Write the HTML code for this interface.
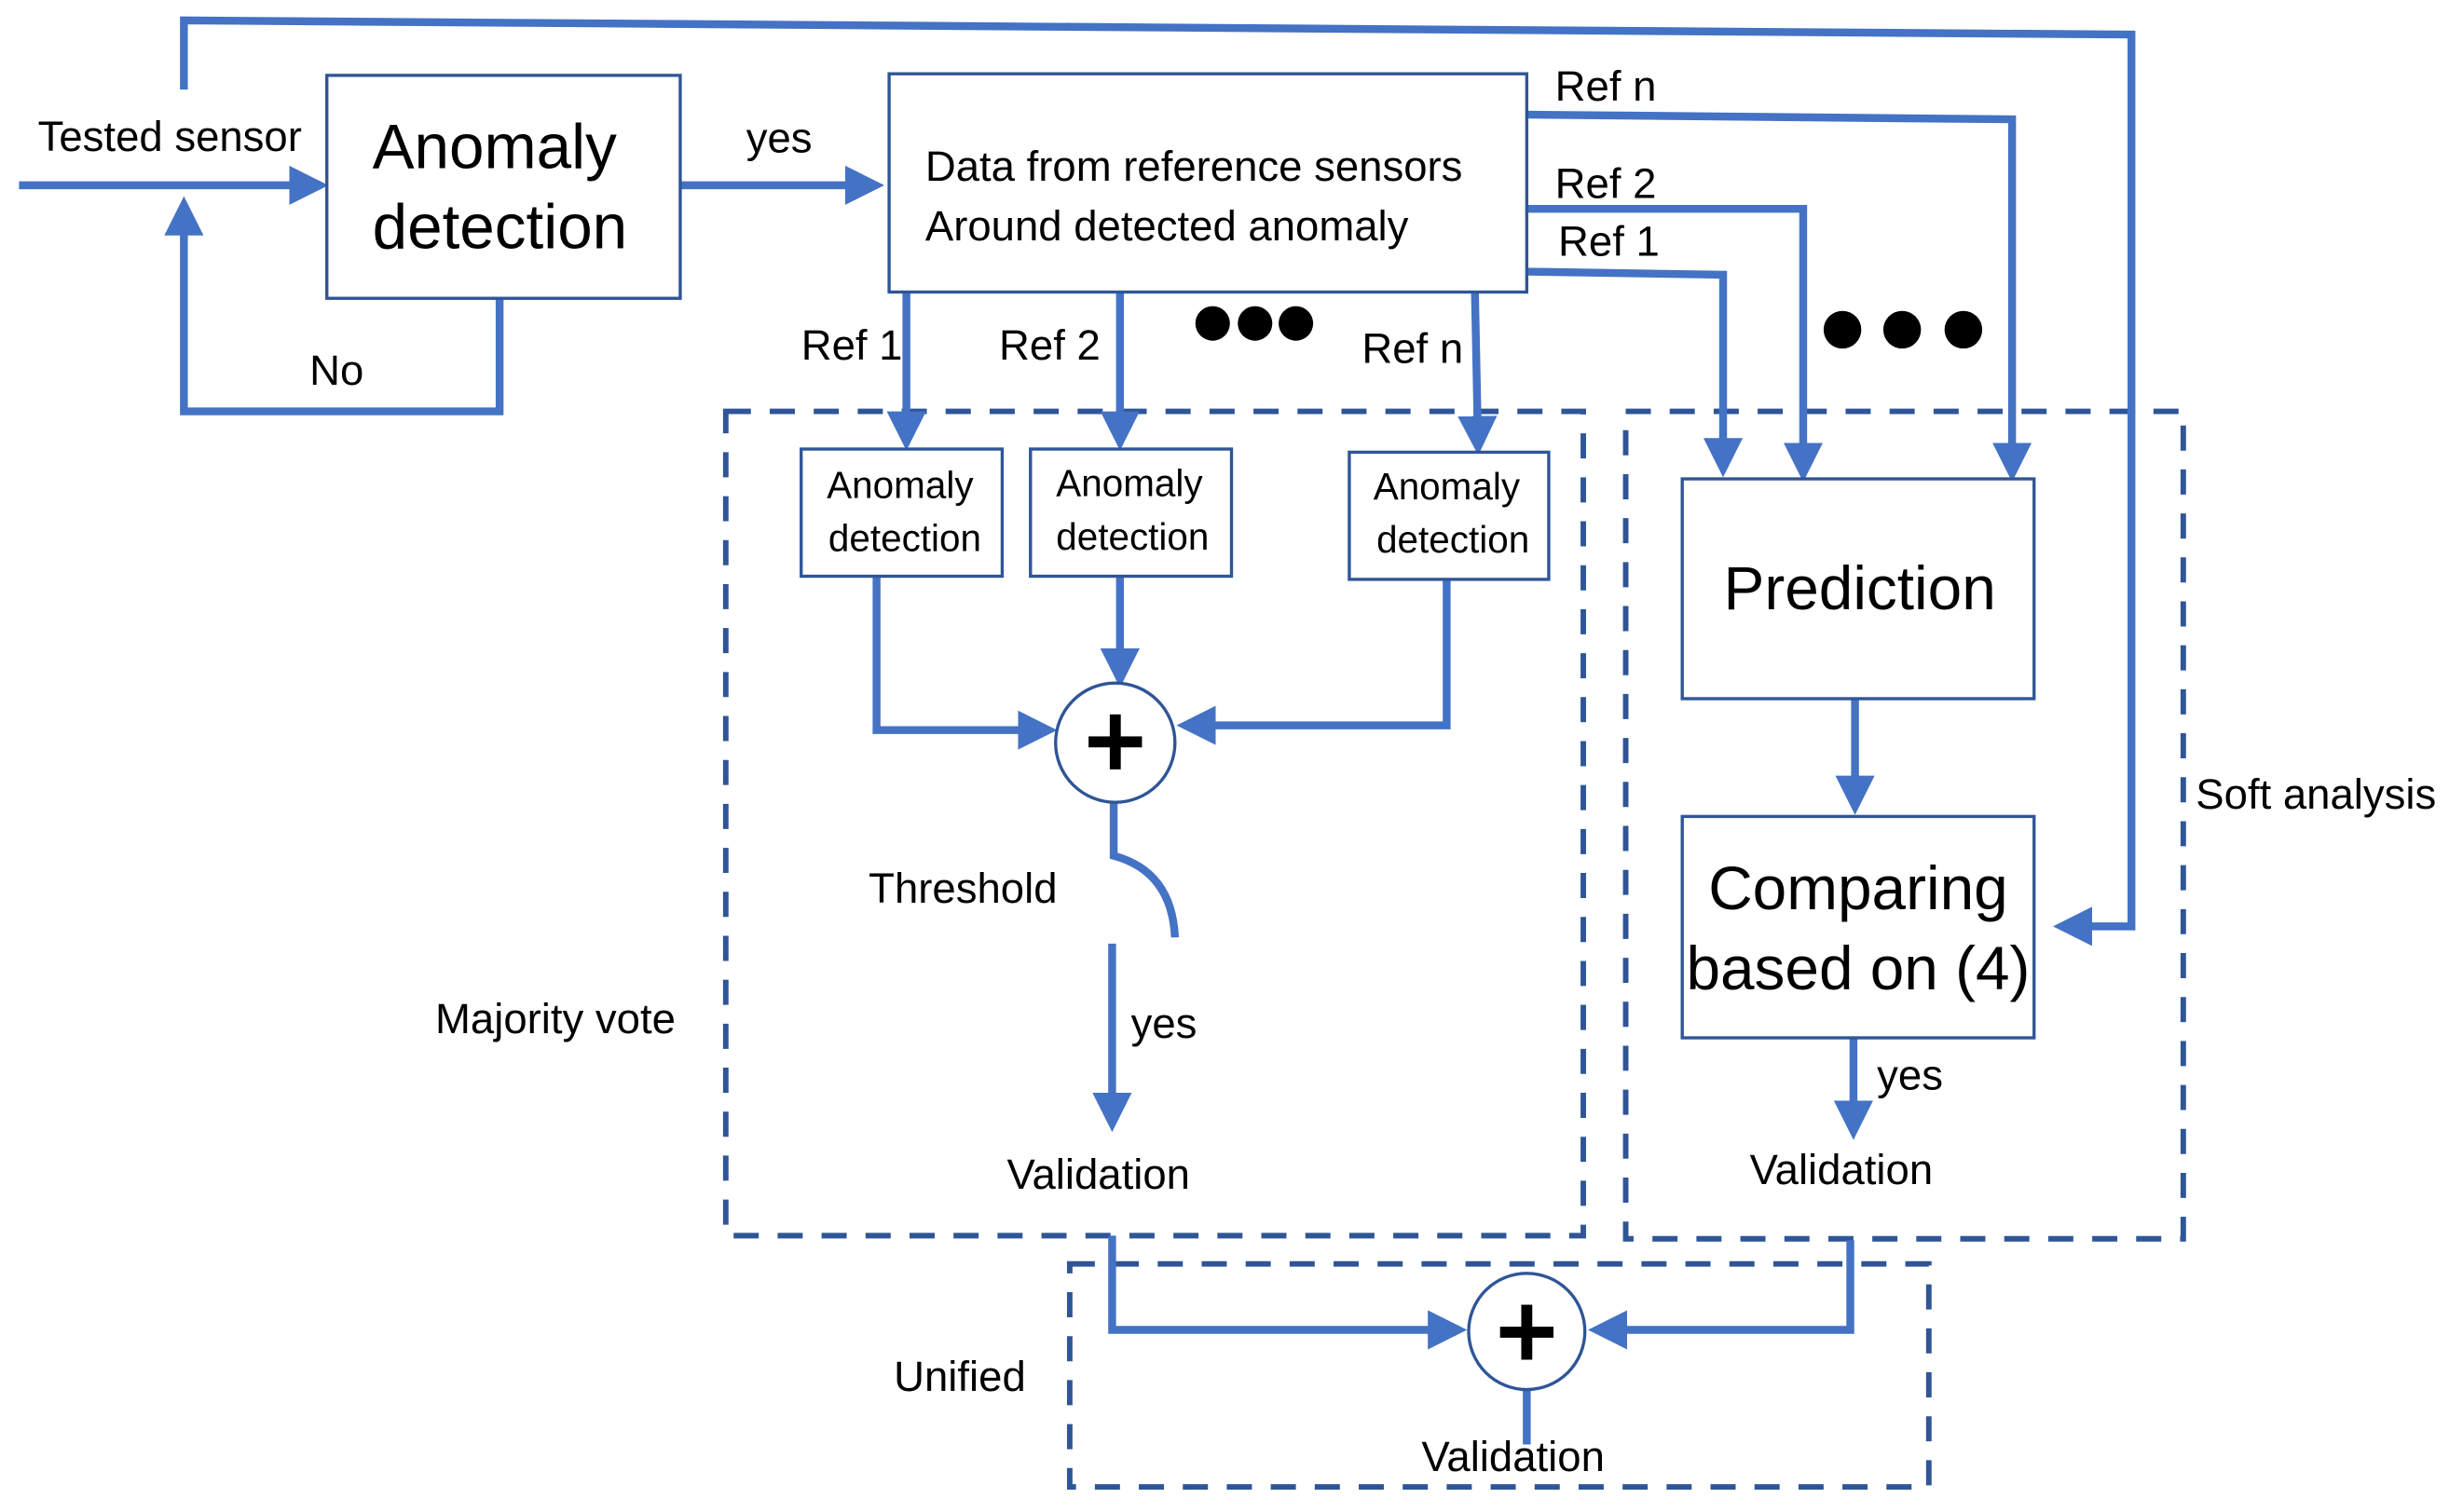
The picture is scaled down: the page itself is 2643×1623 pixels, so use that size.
<!DOCTYPE html>
<html><head><meta charset="utf-8"><style>html,body{margin:0;padding:0;background:#fff}svg{display:block}text{font-family:"Liberation Sans",sans-serif;fill:#000}</style></head><body>
<svg width="2643" height="1623" viewBox="0 0 1568 963" xmlns="http://www.w3.org/2000/svg">
<defs><marker id="a" markerWidth="5" markerHeight="5" refX="4" refY="2.5" orient="auto" markerUnits="strokeWidth"><path d="M0,0 L5,2.5 L0,5z" fill="#4472C4"/></marker></defs>
<g fill="none" stroke="#2F5597" stroke-width="3.5" stroke-dasharray="16,12">
<rect x="462" y="262" width="546" height="525"/>
<rect x="1035" y="262" width="355" height="527"/>
<rect x="681" y="805" width="547" height="142"/>
</g>
<g fill="none" stroke="#4472C4" stroke-width="5">
<polyline points="117,57 117,13 1357,22 1357,590 1312,590" marker-end="url(#a)"/>
<line x1="12" y1="118" x2="204" y2="118" marker-end="url(#a)"/>
<polyline points="318,190 318,262 117,262 117,130" marker-end="url(#a)"/>
<line x1="433" y1="118" x2="558" y2="118" marker-end="url(#a)"/>
<polyline points="972,73 1281,76 1281,302" marker-end="url(#a)"/>
<polyline points="972,133 1148,133 1148,302" marker-end="url(#a)"/>
<polyline points="972,173 1097,175 1097,299" marker-end="url(#a)"/>
<line x1="577" y1="186" x2="577" y2="282" marker-end="url(#a)"/>
<line x1="713" y1="186" x2="713" y2="282" marker-end="url(#a)"/>
<line x1="939" y1="186" x2="941" y2="285" marker-end="url(#a)"/>
<polyline points="558,367 558,465 668,465" marker-end="url(#a)"/>
<line x1="713" y1="367" x2="713" y2="433" marker-end="url(#a)"/>
<polyline points="921,369 921,462 754,462" marker-end="url(#a)"/>
<path d="M709,511 L709,545 Q746,555 748,597"/>
<line x1="708" y1="601" x2="708" y2="716" marker-end="url(#a)"/>
<line x1="1181" y1="445" x2="1181" y2="514" marker-end="url(#a)"/>
<line x1="1180" y1="661" x2="1180" y2="721" marker-end="url(#a)"/>
<polyline points="708,787 708,847 929,847" marker-end="url(#a)"/>
<polyline points="1178,790 1178,847 1016,847" marker-end="url(#a)"/>
<line x1="972" y1="885" x2="972" y2="920"/>
</g>
<g fill="#fff" stroke="#2F5597" stroke-width="2">
<rect x="208" y="48" width="225" height="142"/>
<rect x="566" y="47" width="406" height="139"/>
<rect x="510" y="286" width="128" height="81"/>
<rect x="656" y="286" width="128" height="81"/>
<rect x="859" y="288" width="127" height="81"/>
<rect x="1071" y="305" width="224" height="140"/>
<rect x="1071" y="520" width="224" height="141"/>
<circle cx="710" cy="473" r="38"/>
<circle cx="972" cy="848" r="37"/>
</g>
<g fill="#000">
<rect x="693" y="469" width="34" height="7"/><rect x="706.5" y="455" width="7" height="35"/>
<rect x="955" y="845" width="34" height="7"/><rect x="968.5" y="831" width="7" height="35"/>
<circle cx="772" cy="206" r="11"/><circle cx="799" cy="206" r="11"/><circle cx="825" cy="206" r="11"/>
<circle cx="1173" cy="210" r="12"/><circle cx="1211" cy="210" r="12"/><circle cx="1250" cy="210" r="12"/>
</g>
<g font-size="27">
<text x="24" y="96">Tested sensor</text>
<text x="475" y="97">yes</text>
<text x="197" y="245">No</text>
<text x="990" y="64">Ref n</text>
<text x="990" y="126">Ref 2</text>
<text x="992" y="163">Ref 1</text>
<text x="510" y="229">Ref 1</text>
<text x="636" y="229">Ref 2</text>
<text x="867" y="231">Ref n</text>
<text x="553" y="575">Threshold</text>
<text x="720" y="661">yes</text>
<text x="641" y="757">Validation</text>
<text x="1195" y="694">yes</text>
<text x="1114" y="754">Validation</text>
<text x="1398" y="515">Soft analysis</text>
<text x="277" y="658">Majority vote</text>
<text x="569" y="886">Unified</text>
<text x="905" y="937">Validation</text>
<text x="589" y="115">Data from reference sensors</text>
<text x="589" y="153">Around detected anomaly</text>
</g>
<g font-size="40"><text x="237" y="107">Anomaly</text><text x="237" y="158">detection</text></g>
<g font-size="24" text-anchor="middle">
<text x="573" y="317">Anomaly</text><text x="576" y="351">detection</text>
<text x="719" y="316">Anomaly</text><text x="721" y="350">detection</text>
<text x="921" y="318">Anomaly</text><text x="925" y="352">detection</text>
</g>
<g font-size="39" text-anchor="middle">
<text x="1184" y="388">Prediction</text>
<text x="1183" y="579">Comparing</text>
<text x="1183" y="630">based on (4)</text>
</g>
</svg>
</body></html>
